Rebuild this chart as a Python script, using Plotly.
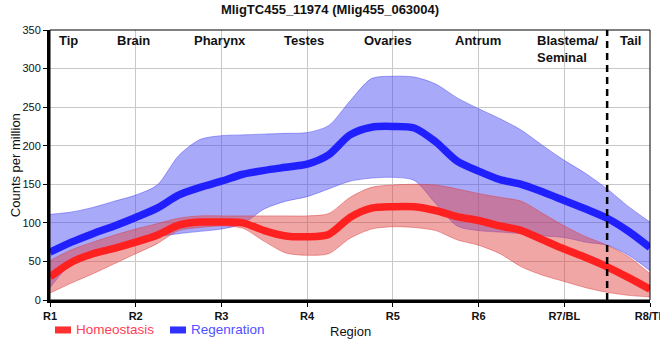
import plotly.graph_objects as go

# ---------------- data ----------------
positions = [1.0, 1.25, 1.5, 1.75, 2.0, 2.25, 2.5, 2.75, 3.0, 3.25, 3.5, 3.75, 4.0, 4.25,
             4.5, 4.75, 5.0, 5.25, 5.5, 5.75, 6.0, 6.25, 6.5, 6.75, 7.0, 7.25, 7.5, 7.75, 8.0]

homeo_mean = [30, 49, 60, 67, 75, 84, 97, 101, 101, 100, 90, 83, 82, 85,
              107, 119, 121, 121, 116, 108, 103, 96, 90, 78, 66, 55, 43, 29, 14]
homeo_upper = [51, 65, 75, 84, 92, 99, 106, 109, 109, 109, 109, 109, 109, 112,
               133, 146, 149, 150, 149, 144, 138, 133, 128, 112, 96, 82, 71, 56, 34]
homeo_lower = [9, 22, 34, 47, 60, 73, 90, 94, 96, 93, 76, 61, 58, 60,
               80, 92, 95, 94, 90, 78, 71, 60, 43, 32, 24, 16, 10, 6, 4]

regen_mean = [62, 75, 86, 96, 107, 119, 136, 146, 154, 163, 168, 172, 176, 188,
              214, 224, 225, 223, 205, 180, 167, 156, 150, 140, 129, 118, 106, 89, 68]
regen_upper = [111, 114, 120, 128, 136, 149, 187, 208, 213, 214, 215, 216, 217, 226,
               258, 287, 290, 289, 280, 262, 248, 235, 220, 200, 181, 164, 144, 121, 101]
regen_lower = [16, 48, 62, 71, 77, 82, 86, 89, 92, 99, 118, 128, 134, 144,
               154, 158, 159, 155, 125, 96, 90, 88, 86, 83, 81, 75, 71, 58, 38]

tick_values = [1, 2, 3, 4, 5, 6, 7, 8]
tick_labels = ["R1", "R2", "R3", "R4", "R5", "R6", "R7/BL", "R8/TL"]

region_names = ["Tip", "Brain", "Pharynx", "Testes", "Ovaries", "Antrum", "Blastema/<br>Seminal", "Tail"]
boundary_x = 7.5

# ---------------- styles ----------------
FONT = "Liberation Sans, Arial, sans-serif"
RED = "#ff2020"
BLUE = "#2020ff"
RED_FILL = "rgba(225,70,70,0.48)"
BLUE_FILL = "rgba(75,75,245,0.48)"
RED_EDGE = "rgba(220,60,60,0.6)"
BLUE_EDGE = "rgba(70,70,240,0.6)"

fig = go.Figure()

# bands
fig.add_trace(go.Scatter(x=positions, y=regen_lower, mode="lines",
                         line=dict(color=BLUE_EDGE, width=0.8, shape="spline", smoothing=0.8),
                         showlegend=False, hoverinfo="skip"))
fig.add_trace(go.Scatter(x=positions, y=regen_upper, mode="lines", fill="tonexty",
                         fillcolor=BLUE_FILL,
                         line=dict(color=BLUE_EDGE, width=0.8, shape="spline", smoothing=0.8),
                         showlegend=False, hoverinfo="skip"))
fig.add_trace(go.Scatter(x=positions, y=homeo_lower, mode="lines",
                         line=dict(color=RED_EDGE, width=0.8, shape="spline", smoothing=0.8),
                         showlegend=False, hoverinfo="skip"))
fig.add_trace(go.Scatter(x=positions, y=homeo_upper, mode="lines", fill="tonexty",
                         fillcolor=RED_FILL,
                         line=dict(color=RED_EDGE, width=0.8, shape="spline", smoothing=0.8),
                         showlegend=False, hoverinfo="skip"))

# mean lines
fig.add_trace(go.Scatter(x=positions, y=regen_mean, mode="lines", name="Regenration",
                         line=dict(color=BLUE, width=7.5, shape="spline", smoothing=0.8),
                         showlegend=False))
fig.add_trace(go.Scatter(x=positions, y=homeo_mean, mode="lines", name="Homeostasis",
                         line=dict(color=RED, width=7.5, shape="spline", smoothing=0.8),
                         showlegend=False))

# region labels (layout positions)
label_x = [1.21, 1.97, 2.98, 3.96, 4.94, 5.99, 6.66, 7.77]
label_anchor = ["center"] * 6 + ["left", "center"]
annotations = []
for name, lx, anc in zip(region_names, label_x, label_anchor):
    annotations.append(dict(x=lx, y=350, xref="x", yref="y", text="<b>" + name + "</b>",
                            showarrow=False, xanchor=anc, yanchor="top", yshift=-1,
                            align="left", font=dict(family=FONT, size=13, color="#111")))

# axis titles
annotations.append(dict(x=0.5, y=-0.115, xref="paper", yref="paper", text="Region",
                        showarrow=False, xanchor="center", yanchor="middle",
                        font=dict(family=FONT, size=13, color="#111")))
annotations.append(dict(x=-0.058, y=0.5, xref="paper", yref="paper", text="Counts per million",
                        showarrow=False, xanchor="center", yanchor="middle", textangle=-90,
                        font=dict(family=FONT, size=13, color="#111")))
# legend texts
annotations.append(dict(x=0.04, y=-0.111, xref="paper", yref="paper", text="Homeostasis",
                        showarrow=False, xanchor="left", yanchor="middle",
                        font=dict(family=FONT, size=13.5, color="#ff4058")))
annotations.append(dict(x=0.2317, y=-0.111, xref="paper", yref="paper", text="Regenration",
                        showarrow=False, xanchor="left", yanchor="middle",
                        font=dict(family=FONT, size=13.5, color="#5050ff")))

shapes = [
    dict(type="line", xref="x", yref="y", x0=boundary_x, x1=boundary_x, y0=0, y1=350,
         line=dict(color="black", width=2.5, dash="7px,5px")),
    dict(type="rect", xref="paper", yref="paper", x0=0, x1=1, y0=0, y1=1,
         line=dict(color="black", width=1)),
    dict(type="rect", xref="paper", yref="paper", x0=0.0083, x1=0.035, y0=-0.124, y1=-0.098,
         fillcolor="#ff3030", line=dict(width=0)),
    dict(type="rect", xref="paper", yref="paper", x0=0.2, x1=0.2267, y0=-0.124, y1=-0.098,
         fillcolor="#3030ff", line=dict(width=0)),
]

fig.update_layout(
    width=660, height=360,
    margin=dict(l=50, r=10, t=30, b=60, autoexpand=False),
    paper_bgcolor="white", plot_bgcolor="white",
    title=dict(text="<b>MligTC455_11974 (Mlig455_063004)</b>", x=0.5, xanchor="center",
               y=0.975, yanchor="middle", yref="container",
               font=dict(family=FONT, size=13, color="#111")),
    font=dict(family=FONT, color="#111"),
    showlegend=False,
    annotations=annotations,
    shapes=shapes,
    xaxis=dict(range=[1, 8], tickmode="array", tickvals=tick_values,
               ticktext=["<b>" + t + "</b>" for t in tick_labels],
               tickfont=dict(family=FONT, size=11, color="#111"),
               ticklabeloverflow="allow", automargin=False,
               showgrid=True, gridcolor="#c8c8c8", gridwidth=1,
               showline=True, linecolor="black", linewidth=3,
               ticks="outside", ticklen=4, tickcolor="black", zeroline=False),
    yaxis=dict(range=[0, 350], tickmode="array", tickvals=[0, 50, 100, 150, 200, 250, 300, 350],
               tickfont=dict(family=FONT, size=11, color="#111"), automargin=False,
               showgrid=True, gridcolor="#c8c8c8", gridwidth=1,
               showline=True, linecolor="black", linewidth=3,
               ticks="outside", ticklen=4, tickcolor="black", zeroline=False),
)

fig.write_html("out.html", config={"displayModeBar": False},
               post_script="document.body.style.margin='0';")
